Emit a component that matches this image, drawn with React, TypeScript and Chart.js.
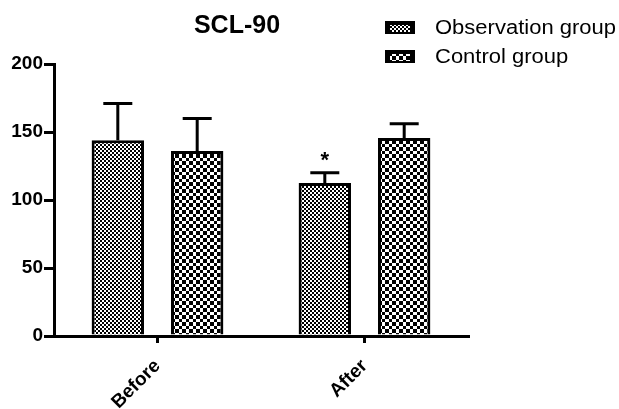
import React, { useEffect, useRef } from "react";
import { Chart, registerables } from "chart.js";

Chart.register(...registerables);

const categories = ["Before", "After"];
const seriesNames = ["Observation group", "Control group"];
const observationMeans = [144, 112.5];
const observationErrors = [27, 7.5];
const controlMeans = [136, 145.5];
const controlErrors = [24, 10.5];
const observationMarks = ["", "*"];
const controlMarks = ["", ""];
const chartTitle = "SCL-90";
const yMin = 0;
const yMax = 200;
const yStep = 50;

const FONT = "'Liberation Sans', Arial, Helvetica, sans-serif";

function makePattern(a: number, b: number): CanvasPattern {
  const size = a + b;
  const c = document.createElement("canvas");
  c.width = size;
  c.height = size;
  const ctx = c.getContext("2d")!;
  ctx.fillStyle = "#fff";
  ctx.fillRect(0, 0, size, size);
  ctx.fillStyle = "#000";
  ctx.fillRect(0, 0, a, a);
  ctx.fillRect(a, a, b, b);
  return ctx.createPattern(c, "repeat")!;
}

const errorBarPlugin = {
  id: "errorBars",
  afterDatasetsDraw(chart: any) {
    const ctx = chart.ctx;
    const yScale = chart.scales.y;
    chart.data.datasets.forEach((ds: any, i: number) => {
      const meta = chart.getDatasetMeta(i);
      meta.data.forEach((bar: any, j: number) => {
        const top = yScale.getPixelForValue(ds.data[j] + ds.errors[j]);
        const x = bar.x;
        ctx.save();
        ctx.strokeStyle = "#000";
        ctx.lineWidth = 3;
        ctx.beginPath();
        ctx.moveTo(x, bar.y);
        ctx.lineTo(x, top);
        ctx.moveTo(x - 14.5, top);
        ctx.lineTo(x + 14.5, top);
        ctx.stroke();
        const mark = ds.marks[j];
        if (mark) {
          ctx.fillStyle = "#000";
          ctx.font = `bold 22px ${FONT}`;
          ctx.textAlign = "center";
          ctx.textBaseline = "middle";
          ctx.fillText(mark, x, top - 12);
        }
        ctx.restore();
      });
    });
  },
};

const titleLegendPlugin = {
  id: "titleLegend",
  afterDraw(chart: any) {
    const ctx = chart.ctx;
    ctx.save();
    ctx.fillStyle = "#000";
    ctx.font = `bold 25px ${FONT}`;
    ctx.textAlign = "center";
    ctx.textBaseline = "alphabetic";
    ctx.fillText(chartTitle, 237, 33);

    chart.data.datasets.forEach((ds: any, i: number) => {
      const bx = 386;
      const by = 22 + i * 29;
      ctx.fillStyle = "#000";
      ctx.fillRect(bx - 1, by - 1, 30, 13);
      ctx.fillStyle = ds.backgroundColor;
      ctx.fillRect(bx + 4, by + 3, 20, 7);
      ctx.fillStyle = "#000";
      ctx.font = `20px ${FONT}`;
      ctx.textAlign = "left";
      ctx.textBaseline = "middle";
      ctx.save();
      ctx.translate(435, by + 6);
      ctx.scale(1.1, 1);
      ctx.fillText(ds.label, 0, 0);
      ctx.restore();
    });
    ctx.restore();
  },
};

export default function App() {
  const canvasRef = useRef<HTMLCanvasElement | null>(null);

  useEffect(() => {
    if (!canvasRef.current) return;
    const chart = new Chart(canvasRef.current, {
      type: "bar",
      data: {
        labels: categories,
        datasets: [
          {
            label: seriesNames[0],
            data: observationMeans,
            errors: observationErrors,
            marks: observationMarks,
            backgroundColor: makePattern(2, 2),
            borderColor: "#000",
            borderWidth: 3,
            borderSkipped: "bottom",
          } as any,
          {
            label: seriesNames[1],
            data: controlMeans,
            errors: controlErrors,
            marks: controlMarks,
            backgroundColor: makePattern(4, 3),
            borderColor: "#000",
            borderWidth: 3,
            borderSkipped: "bottom",
          } as any,
        ],
      },
      options: {
        responsive: false,
        animation: false,
        categoryPercentage: 0.767,
        barPercentage: 0.66,
        layout: { padding: { top: 64, right: 151, left: 8, bottom: 0 } },
        plugins: {
          legend: { display: false },
          title: { display: false },
          tooltip: { enabled: false },
        },
        scales: {
          x: {
            afterFit(scale: any) {
              scale.height = 73;
            },
            grid: {
              display: true,
              offset: false,
              drawOnChartArea: false,
              drawTicks: true,
              tickLength: 7,
              tickWidth: 3,
              lineWidth: 3,
              color: "#000",
            },
            border: { display: true, color: "#000", width: 3 },
            ticks: {
              autoSkip: false,
              minRotation: 45,
              maxRotation: 45,
              padding: 12,
              color: "#000",
              font: { family: FONT, size: 19, weight: "bold" },
            },
          },
          y: {
            min: yMin,
            max: yMax,
            afterFit(scale: any) {
              scale.width = 46;
            },
            grid: {
              display: true,
              drawOnChartArea: false,
              drawTicks: true,
              tickLength: 10,
              lineWidth: 3,
              color: "#000",
            },
            border: { display: true, color: "#000", width: 3 },
            ticks: {
              stepSize: yStep,
              padding: 1,
              color: "#000",
              font: { family: FONT, size: 19, weight: "bold" },
            },
          },
        },
      },
      plugins: [errorBarPlugin, titleLegendPlugin],
    } as any);
    return () => chart.destroy();
  }, []);

  return (
    <div style={{ position: "fixed", left: 0, top: 0, width: 619, height: 409, background: "#fff" }}>
      <canvas ref={canvasRef} width={619} height={409} style={{ display: "block" }} />
    </div>
  );
}
